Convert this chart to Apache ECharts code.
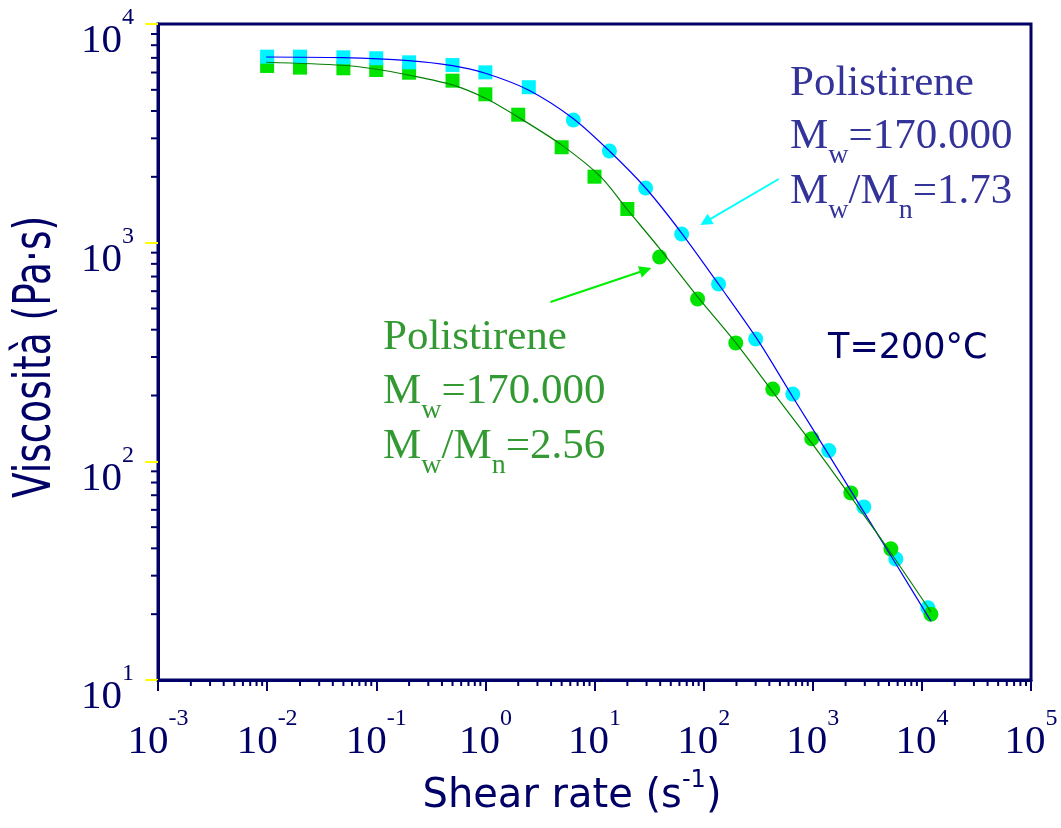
<!DOCTYPE html>
<html>
<head>
<meta charset="utf-8">
<script src="https://cdn.jsdelivr.net/npm/echarts@6/dist/echarts.min.js"></script>
<style>
html,body{margin:0;padding:0;background:#fff;}
#chart{width:1061px;height:828px;}
</style>
</head>
<body>
<div id="chart"></div>
<script>
// ---- tick labels (decade exponents) ----
const xTickExps = [-3, -2, -1, 0, 1, 2, 3, 4, 5];
const yTickExps = [1, 2, 3, 4];

// ---- Polistirene Mw/Mn = 1.73 (cyan markers) ----
const cyanSqX = [0.01, 0.02, 0.05, 0.1, 0.2, 0.5, 1, 2.5];
const cyanSqY = [7090, 7090, 7040, 6970, 6680, 6490, 6010, 5140];
const cyanCiX = [6.4, 13.7, 29.4, 62.9, 137, 300, 656, 1403, 2937, 5770, 11350];
const cyanCiY = [3640, 2626, 1778, 1096, 647, 363, 203, 112, 61.9, 35.8, 21.4];
// fitted curve (blue)
const fitBlueX = [0.0098, 0.0488, 0.197, 0.498, 1.0, 2.48, 6.28, 13.7, 29.4, 62.8, 143, 313, 656, 1403, 2937, 5770, 12100];
const fitBlueY = [7063, 7014, 6798, 6446, 5953, 4993, 3719, 2626, 1778, 1107, 627, 359, 197, 107, 58.7, 34.0, 18.6];

// ---- Polistirene Mw/Mn = 2.56 (green markers) ----
const greenSqX = [0.01, 0.02, 0.05, 0.1, 0.2, 0.5, 1, 2, 5, 10, 20];
const greenSqY = [6428, 6316, 6272, 6162, 5988, 5506, 4771, 3848, 2731, 2003, 1426];
const greenCiX = [39.5, 88, 197, 430, 980, 2233, 5200, 12100];
const greenCiY = [860, 553, 348, 214, 127, 71.7, 39.8, 20.0];
// fitted curve (green)
const fitGreenX = [0.0098, 0.0488, 0.098, 0.197, 0.498, 1.0, 1.97, 4.98, 11.35, 20.1, 40.4, 88.1, 188, 430, 980, 2233, 5200, 12100];
const fitGreenY = [6683, 6476, 6225, 5843, 5264, 4573, 3766, 2800, 2005, 1413, 927, 565, 359, 208, 121, 68.8, 38.1, 20.5];

// ---- annotation arrows (data coords: [tail], [tip]) ----
const arrowCyan = [[488, 1955], [104, 1244]];
const arrowGreen = [[3.95, 535], [29.4, 750]];

const NAVY = '#000066';
const xMin = Math.pow(10, xTickExps[0]), xMax = Math.pow(10, xTickExps[xTickExps.length - 1]);
const yMin = Math.pow(10, yTickExps[0]), yMax = Math.pow(10, yTickExps[yTickExps.length - 1]);

function zip(a, b) { return a.map((v, i) => [v, b[i]]); }

// minor tick positions (2..9 x 10^n)
const xMinor = [], yMinor = [];
for (let e = xTickExps[0]; e < xTickExps[xTickExps.length - 1]; e++) for (let k = 2; k <= 9; k++) xMinor.push(k * Math.pow(10, e));
for (let e = yTickExps[0]; e < yTickExps[yTickExps.length - 1]; e++) for (let k = 2; k <= 9; k++) yMinor.push(k * Math.pow(10, e));

const labelRich = {
  b: { fontFamily: 'Liberation Serif', fontSize: 41, lineHeight: 56, verticalAlign: 'bottom', color: NAVY },
  e: { fontFamily: 'Liberation Serif', fontSize: 24, lineHeight: 16, verticalAlign: 'top', color: NAVY }
};
function expLabel(v) { return '{b|10}{e|' + Math.round(Math.log10(v)) + '}'; }

const chart = echarts.init(document.getElementById('chart'), null, { renderer: 'canvas' });

const annRich = (col) => ({
  m: { fontFamily: 'Liberation Serif', fontSize: 43, lineHeight: 46, verticalAlign: 'top', fill: col, color: col },
  s: { fontFamily: 'Liberation Serif', fontSize: 28, lineHeight: 28, padding: [27, 0, 0, 0], verticalAlign: 'top', fill: col, color: col }
});
function annText(left, top, text, col) {
  return { type: 'text', left: left, top: top, silent: true, style: { text: text, rich: annRich(col), fill: col } };
}
const BLUE_T = '#333399', GREEN_T = '#339933';

function arrowMarkLine(pair, col) {
  return {
    silent: true, symbol: ['none', 'triangle'], symbolSize: 12,
    label: { show: false },
    lineStyle: { color: col, width: 2, type: 'solid', opacity: 1 },
    itemStyle: { color: col },
    emphasis: { disabled: true },
    data: [[{ coord: pair[0] }, { coord: pair[1] }]]
  };
}

chart.setOption({
  animation: false,
  backgroundColor: '#ffffff',
  grid: { left: 158, right: 30, top: 24, bottom: 148, show: true, borderColor: NAVY, borderWidth: 3, backgroundColor: 'transparent' },
  xAxis: {
    type: 'log', logBase: 10, min: xMin, max: xMax, splitNumber: 8,
    axisLine: { show: true, lineStyle: { color: NAVY, width: 3 } },
    axisTick: { show: true, inside: false, length: 11, lineStyle: { color: NAVY, width: 2 } },
    splitLine: { show: false },
    minorTick: { show: false },
    axisLabel: { margin: 27, formatter: expLabel, rich: labelRich }
  },
  yAxis: {
    type: 'log', logBase: 10, min: yMin, max: yMax, splitNumber: 3,
    axisLine: { show: true, lineStyle: { color: NAVY, width: 3 } },
    axisTick: { show: true, inside: false, length: 13, lineStyle: { color: '#ffff00', width: 2 } },
    splitLine: { show: false },
    minorTick: { show: false },
    axisLabel: { margin: 24, padding: [20, 0, 0, 0], formatter: expLabel, rich: labelRich }
  },
  series: [
    {
      type: 'custom', coordinateSystem: 'cartesian2d', silent: true, clip: false, z: 5,
      data: xMinor.map(v => [v, yMin]),
      renderItem: (params, api) => {
        const p = api.coord([api.value(0), api.value(1)]);
        return { type: 'line', shape: { x1: p[0], y1: p[1], x2: p[0], y2: p[1] + 6 }, style: { stroke: NAVY, lineWidth: 2 } };
      }
    },
    {
      type: 'custom', coordinateSystem: 'cartesian2d', silent: true, clip: false, z: 5,
      data: yMinor.map(v => [xMin, v]),
      renderItem: (params, api) => {
        const p = api.coord([api.value(0), api.value(1)]);
        return { type: 'line', shape: { x1: p[0] - 7, y1: p[1], x2: p[0], y2: p[1] }, style: { stroke: NAVY, lineWidth: 2 } };
      }
    },
    { name: 'g-sq', type: 'scatter', symbol: 'rect', symbolSize: 14, data: zip(greenSqX, greenSqY), itemStyle: { color: '#00e400', opacity: 1 }, silent: true },
    { name: 'c-sq', type: 'scatter', symbol: 'rect', symbolSize: 14, data: zip(cyanSqX, cyanSqY), itemStyle: { color: '#00f4ff', opacity: 1 }, silent: true },
    { name: 'c-ci', type: 'scatter', symbol: 'circle', symbolSize: 15, data: zip(cyanCiX, cyanCiY), itemStyle: { color: '#00f4ff', opacity: 1 }, silent: true },
    { name: 'g-ci', type: 'scatter', symbol: 'circle', symbolSize: 15, data: zip(greenCiX, greenCiY), itemStyle: { color: '#00e400', opacity: 1 }, silent: true },
    {
      name: 'fit-blue', type: 'line', smooth: 0.3, showSymbol: false, z: 3, silent: true,
      data: zip(fitBlueX, fitBlueY), lineStyle: { color: '#0000ff', width: 1.2 },
      markLine: arrowMarkLine(arrowCyan, '#00ffff')
    },
    {
      name: 'fit-green', type: 'line', smooth: 0.3, showSymbol: false, z: 3, silent: true,
      data: zip(fitGreenX, fitGreenY), lineStyle: { color: '#008000', width: 1.2 },
      markLine: arrowMarkLine(arrowGreen, '#00ee00')
    }
  ],
  graphic: [
    annText(790, 62, '{m|Polistirene}', BLUE_T),
    annText(790, 115, '{m|M}{s|w}{m|=170.000}', BLUE_T),
    annText(790, 170, '{m|M}{s|w}{m|/M}{s|n}{m|=1.73}', BLUE_T),
    annText(383, 316, '{m|Polistirene}', GREEN_T),
    annText(383, 370, '{m|M}{s|w}{m|=170.000}', GREEN_T),
    annText(383, 425, '{m|M}{s|w}{m|/M}{s|n}{m|=2.56}', GREEN_T),
    {
      type: 'text', left: 828, top: 331, silent: true,
      style: { text: 'T=200°C', font: '35px "DejaVu Sans"', fill: NAVY }
    },
    {
      type: 'text', x: 572, y: 769, silent: true,
      style: {
        text: '{t|Shear rate (s}{u|-1}{t|)}', align: 'center', verticalAlign: 'top',
        rich: {
          t: { fontFamily: 'DejaVu Sans', fontSize: 40, lineHeight: 48, verticalAlign: 'bottom', fill: NAVY },
          u: { fontFamily: 'DejaVu Sans', fontSize: 24, lineHeight: 20, verticalAlign: 'top', fill: NAVY }
        }
      }
    },
    {
      type: 'text', x: 36, y: 357, rotation: Math.PI / 2, scaleX: 0.72, silent: true,
      style: { text: 'Viscosità (Pa·s)', font: '52px "DejaVu Sans"', fill: NAVY, align: 'center', verticalAlign: 'middle' }
    }
  ]
});
</script>
</body>
</html>
